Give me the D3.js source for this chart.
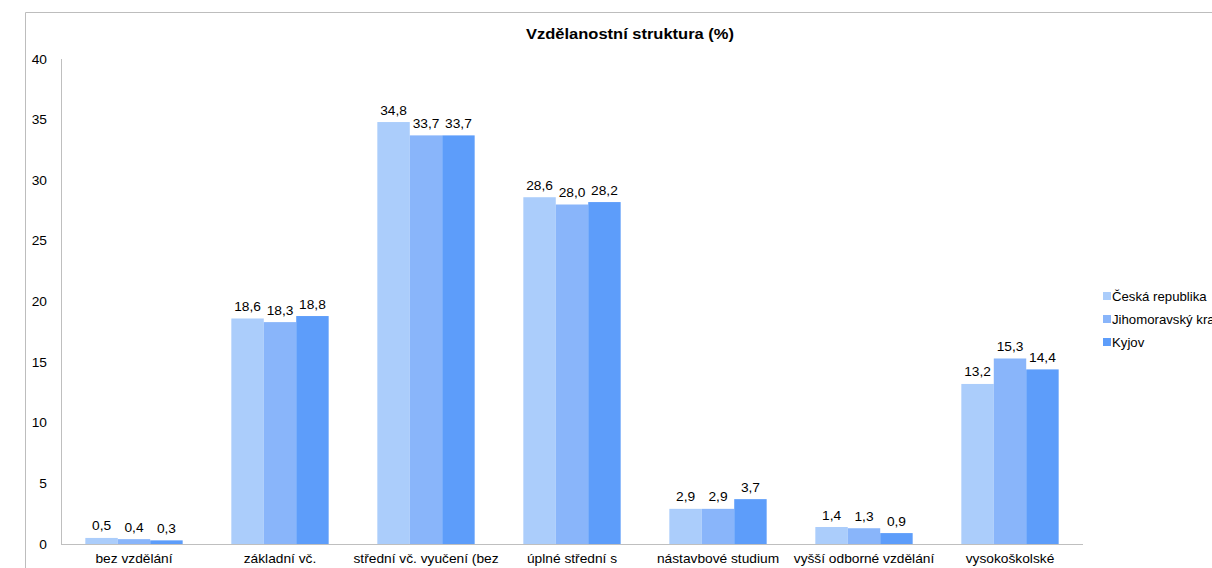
<!DOCTYPE html>
<html><head><meta charset="utf-8">
<script src="https://cdn.jsdelivr.net/npm/d3@7"></script>
<style>body{margin:0;background:#fff;overflow:hidden}svg{display:block;font-family:"Liberation Sans",Arial,sans-serif}</style>
</head><body><svg id="c" width="1212" height="568"></svg>
<script>
const categories = ["bez vzdělání","základní vč.","střední vč. vyučení (bez","úplné střední s","nástavbové studium","vyšší odborné vzdělání","vysokoškolské"];
const seriesNames = ["Česká republika","Jihomoravský kraj","Kyjov"];
const ceskaRepublika = [0.5,18.6,34.8,28.6,2.9,1.4,13.2];
const jihomoravskyKraj = [0.4,18.3,33.7,28.0,2.9,1.3,15.3];
const kyjov = [0.3,18.8,33.7,28.2,3.7,0.9,14.4];
const yTicks = [0,5,10,15,20,25,30,35,40];
const colors = ["#abcdfb","#89b5fa","#5d9dfa"];
const title = "Vzdělanostní struktura (%)";

const series = [ceskaRepublika, jihomoravskyKraj, kyjov];
const svg = d3.select("#c");
const SX = 1.1;
function txt(x, y, s, size, anchor, bold){
  return svg.append("text").attr("transform",`translate(${x},${y}) scale(${SX},1)`)
    .attr("text-anchor",anchor||"start").attr("font-size",size).attr("fill","#000")
    .attr("font-weight",bold?"bold":"normal").text(s);
}
// frame
svg.append("path").attr("d","M25.5,568 V12.5 H1212").attr("fill","none").attr("stroke","#bdbdbd").attr("stroke-width",1);

const x0 = d3.scaleBand().domain(categories).range([61,1083]).paddingInner(0).paddingOuter(0);
const bandInner = x0.bandwidth()*3/4.5;
const x1 = d3.scaleBand().domain([0,1,2]).range([0,bandInner]);
const y = d3.scaleLinear().domain([0,40]).range([544,59]);

txt(630, 39, title, 15, "middle", true);

// y axis
svg.append("line").attr("x1",61.5).attr("x2",61.5).attr("y1",y(40)).attr("y2",y(0)).attr("stroke","#bfbfbf");
yTicks.forEach(d=>txt(47, y(d)+4.5, d, 12.5, "end"));

categories.forEach((c,i)=>{
  const off = x0(c) + (x0.bandwidth()-bandInner)/2;
  series.forEach((s,j)=>{
    svg.append("rect").attr("x",off+x1(j)).attr("width",x1.bandwidth()).attr("y",y(s[i])).attr("height",y(0)-y(s[i])).attr("fill",colors[j]);
    txt(off+x1(j)+x1.bandwidth()/2, y(s[i])-7.5, d3.format(".1f")(s[i]).replace(".",","), 12.5, "middle");
  });
  txt(x0(c)+x0.bandwidth()/2, 563, c, 12.5, "middle");
});
svg.append("line").attr("x1",61).attr("x2",1083).attr("y1",544.5).attr("y2",544.5).attr("stroke","#bfbfbf");

// legend
seriesNames.forEach((n,j)=>{
  const ly = 296 + j*23;
  svg.append("rect").attr("x",1103).attr("y",ly-4).attr("width",8).attr("height",8).attr("fill",colors[j]);
  txt(1112, ly+5, n, 12, "start");
});
</script></body></html>
